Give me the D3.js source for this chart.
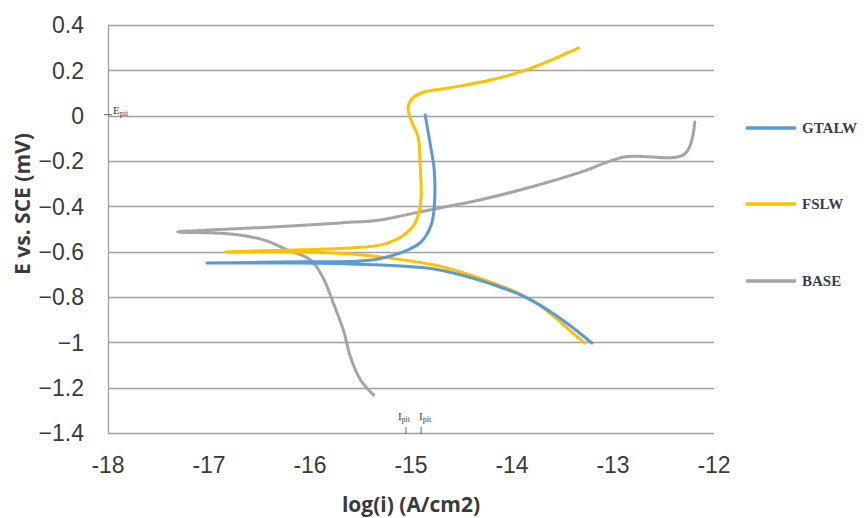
<!DOCTYPE html>
<html>
<head>
<meta charset="utf-8">
<script src="https://cdn.jsdelivr.net/npm/d3@7"></script>
<style>
    body { margin: 0; background: #fff; }
    .tick-label { font-family: 'Liberation Sans Narrow', 'Liberation Sans', sans-serif; font-size: 23px; fill: #3a3a3a; }
    .axis-title { font-family: 'Open Sans', 'Liberation Sans', sans-serif; font-size: 21px; font-weight: bold; fill: #3a3a3a; }
    .legend-label { font-family: 'Liberation Serif', 'DejaVu Serif', serif; font-size: 15px; font-weight: bold; fill: #333f50; }
    .note { font-family: 'Liberation Serif', serif; font-size: 11px; fill: #333f50; }
</style>
</head>
<body>
<div id="vis"></div>
<script>
//series: [log(i), E] in drawing order (cathodic end -> Ecorr -> anodic end)
var gtalw = [
    [-13.21, -1.003], [-13.38, -0.941], [-13.56, -0.883], [-13.76, -0.826], [-13.96, -0.782],
    [-14.21, -0.742], [-14.50, -0.703], [-14.77, -0.676], [-15.10, -0.663], [-15.60, -0.654],
    [-16.09, -0.650], [-17.02, -0.650], [-16.09, -0.645], [-15.50, -0.641], [-15.30, -0.630],
    [-15.03, -0.592], [-14.90, -0.557], [-14.80, -0.482], [-14.77, -0.403], [-14.77, -0.240],
    [-14.80, -0.151], [-14.86, 0.003]
];
var fslw = [
    [-13.28, -1.003], [-13.42, -0.950], [-13.58, -0.888], [-13.76, -0.826], [-13.96, -0.778],
    [-14.21, -0.734], [-14.50, -0.690], [-14.77, -0.659], [-15.30, -0.623], [-15.60, -0.610],
    [-16.09, -0.601], [-16.84, -0.601], [-16.09, -0.592], [-15.60, -0.584], [-15.30, -0.570],
    [-15.10, -0.535], [-14.97, -0.482], [-14.92, -0.425], [-14.90, -0.359], [-14.91, -0.209],
    [-14.93, -0.094], [-15.00, -0.019], [-15.03, 0.034], [-15.00, 0.069], [-14.90, 0.100],
    [-14.63, 0.122], [-14.21, 0.157], [-13.81, 0.210], [-13.34, 0.299]
];
var base = [
    [-15.37, -1.232], [-15.50, -1.166], [-15.60, -1.064], [-15.67, -0.945], [-15.77, -0.826],
    [-15.86, -0.725], [-15.99, -0.637], [-16.22, -0.593], [-16.46, -0.548], [-16.79, -0.522],
    [-17.31, -0.513], [-16.79, -0.500], [-16.19, -0.487], [-15.70, -0.473], [-15.30, -0.460],
    [-14.97, -0.430], [-14.28, -0.368], [-13.74, -0.306], [-13.31, -0.248], [-12.89, -0.182],
    [-12.29, -0.169], [-12.19, -0.028]
];

var seriesNames = ['GTALW', 'FSLW', 'BASE'];
var xTicks = [-18, -17, -16, -15, -14, -13, -12];
var yTicks = [0.4, 0.2, 0, -0.2, -0.4, -0.6, -0.8, -1, -1.2, -1.4];
var ePit = [0];
var iPit = [-15.05, -14.90];

//layout
var width = 867, height = 518;
var margin = { top: 25, right: 153, bottom: 85, left: 108 };
var colors = { GTALW: '#5b9bd5', FSLW: '#ffc000', BASE: '#a5a5a5' };

var x = d3.scaleLinear().domain([-18, -12]).range([margin.left, width - margin.right]);
var y = d3.scaleLinear().domain([-1.4, 0.4]).range([height - margin.bottom, margin.top]);

var svg = d3.select('#vis').append('svg')
    .attr('width', width)
    .attr('height', height);

//gridlines
svg.append('g').selectAll('line')
    .data(yTicks)
    .enter().append('line')
    .attr('x1', x(-18))
    .attr('x2', x(-12))
    .attr('y1', function (d) { return Math.round(y(d)) + 0.5; })
    .attr('y2', function (d) { return Math.round(y(d)) + 0.5; })
    .style('stroke', '#a0a0a0')
    .style('stroke-width', 1.3);

//vertical axis line
svg.append('line')
    .attr('x1', x(-18) + 0.5).attr('x2', x(-18) + 0.5)
    .attr('y1', y(0.4)).attr('y2', y(-1.4))
    .style('stroke', '#a0a0a0')
    .style('stroke-width', 1.3);

//tick labels
svg.append('g').selectAll('text')
    .data(yTicks)
    .enter().append('text')
    .attr('class', 'tick-label')
    .attr('x', 84)
    .attr('y', function (d) { return y(d); })
    .attr('dy', '0.36em')
    .attr('text-anchor', 'end')
    .text(function (d) { return d3.format('')(d); });

svg.append('g').selectAll('text')
    .data(xTicks)
    .enter().append('text')
    .attr('class', 'tick-label')
    .attr('x', function (d) { return x(d); })
    .attr('y', 473)
    .attr('text-anchor', 'middle')
    .text(function (d) { return d; });

//axis titles
svg.append('text')
    .attr('class', 'axis-title')
    .attr('transform', 'translate(30,' + y(-0.39) + ') rotate(-90)')
    .attr('text-anchor', 'middle')
    .text('E vs. SCE (mV)');
svg.append('text')
    .attr('class', 'axis-title')
    .attr('x', x(-15))
    .attr('y', 512)
    .attr('text-anchor', 'middle')
    .text('log(i) (A/cm2)');

//curves
var line = d3.line()
    .x(function (d) { return x(d[0]); })
    .y(function (d) { return y(d[1]); })
    .curve(d3.curveCatmullRom.alpha(0.5));

var allSeries = [base, fslw, gtalw];
var order = ['BASE', 'FSLW', 'GTALW'];
allSeries.forEach(function (s, i) {
    svg.append('path')
        .datum(s)
        .attr('d', line)
        .style('fill', 'none')
        .style('stroke', colors[order[i]])
        .style('stroke-width', 3)
        .style('stroke-linejoin', 'round')
        .style('stroke-linecap', 'round');
});

//Epit / Ipit markers
ePit.forEach(function (d) {
    svg.append('line')
        .attr('x1', x(-18) - 4).attr('x2', x(-18) + 4)
        .attr('y1', y(d) - 1).attr('y2', y(d) - 1)
        .style('stroke', '#333f50').style('stroke-width', 0.8);
    var t = svg.append('text').attr('class', 'note')
        .attr('x', x(-18) + 5).attr('y', y(d) - 2);
    t.append('tspan').text('E');
    t.append('tspan').attr('dy', 2).style('font-size', '8px').text('pit');
});
iPit.forEach(function (d, i) {
    svg.append('line')
        .attr('x1', x(d)).attr('x2', x(d))
        .attr('y1', y(-1.4) - 6).attr('y2', y(-1.4) + 1)
        .style('stroke', '#333f50').style('stroke-width', 0.8);
    var t = svg.append('text').attr('class', 'note')
        .attr('x', x(d) + (i === 0 ? -8 : -2)).attr('y', y(-1.4) - 13);
    t.append('tspan').text('I');
    t.append('tspan').attr('dy', 2).style('font-size', '8px').text('pit');
});

//legend
var legendY = [128, 204, 281];
seriesNames.forEach(function (name, i) {
    svg.append('line')
        .attr('x1', 746).attr('x2', 796)
        .attr('y1', legendY[i]).attr('y2', legendY[i])
        .style('stroke', colors[name])
        .style('stroke-width', 3.5);
    svg.append('text')
        .attr('class', 'legend-label')
        .attr('x', 802)
        .attr('y', legendY[i] + 5)
        .text(name);
});
</script>
</body>
</html>
